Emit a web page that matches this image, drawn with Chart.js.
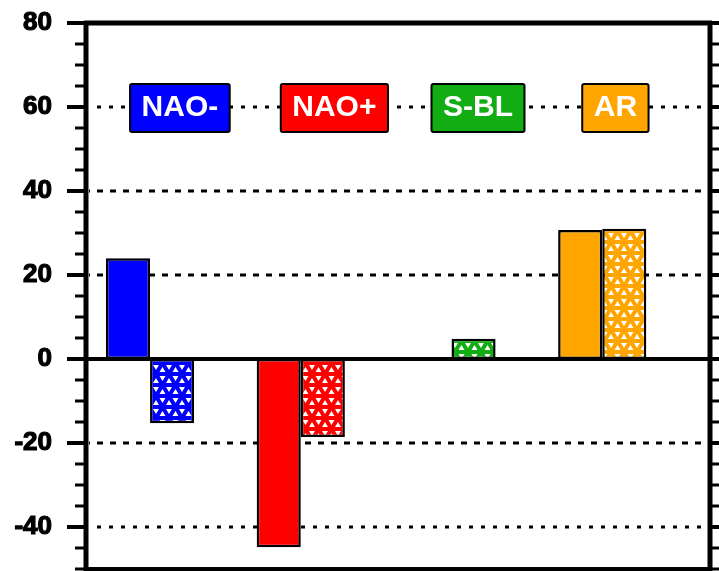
<!DOCTYPE html>
<html>
<head>
<meta charset="utf-8">
<style>
  html, body { margin: 0; padding: 0; background: #fff; }
  #wrap { width: 719px; height: 571px; }
</style>
<script src="https://cdn.jsdelivr.net/npm/chart.js@4/dist/chart.umd.min.js"></script>
</head>
<body>
<div id="wrap"><canvas id="c" width="719" height="571"></canvas></div>
<script>
// Regimes and their values (solid = first member, hatched = second member)
const categories = ['NAO-', 'NAO+', 'S-BL', 'AR'];
const categoryColors = ['#0000ff', '#ff0000', '#12ad12', '#ffa500'];
const solidValues = [24.0, -44.8, null, 30.7];
const hatchedValues = [-15.3, -18.6, 4.8, 31.0];
const yTickValues = [-40, -20, 0, 20, 40, 60, 80];
const gridValues = [-40, -20, 20, 40, 60];

const canvas = document.getElementById('c');
const ctx = canvas.getContext('2d');

// Triangular-lattice fill: white triangles separated by coloured strokes
function trianglePattern(color) {
  const a = 13, h = 11;
  const c = document.createElement('canvas');
  c.width = a; c.height = 2 * h;
  const g = c.getContext('2d');
  g.fillStyle = '#ffffff';
  g.fillRect(0, 0, a, 2 * h);
  g.strokeStyle = color;
  g.lineWidth = 4;
  g.beginPath();
  for (const y of [0, h, 2 * h]) { g.moveTo(-2, y); g.lineTo(a + 2, y); }
  for (let k = -1; k <= 2; k++) {
    g.moveTo(k * a, 0); g.lineTo(k * a + a, 2 * h);
    g.moveTo(k * a, 0); g.lineTo(k * a - a, 2 * h);
  }
  g.stroke();
  return ctx.createPattern(c, 'repeat');
}

const xs = categories.map((_, i) => i + 1);
const solidData = xs.map((x, i) => ({ x, y: solidValues[i] }));
const hatchedData = xs.map((x, i) => ({ x, y: hatchedValues[i] }));
const hatchedFills = categoryColors.map(trianglePattern);

// Frame, dashed reference lines, tick marks and the regime labels
const framePlugin = {
  id: 'frame',
  beforeDatasetsDraw(chart) {
    const { ctx, chartArea: ca, scales: { y } } = chart;
    ctx.save();
    ctx.strokeStyle = '#000';
    ctx.lineWidth = 3;
    gridValues.forEach(v => {
      const py = y.getPixelForValue(v);
      ctx.setLineDash(v === 60 || v === -40 ? [4, 8] : [6, 7]);
      ctx.lineDashOffset = -8;
      ctx.beginPath();
      ctx.moveTo(ca.left + 3, py);
      ctx.lineTo(ca.right - 3, py);
      ctx.stroke();
    });
    ctx.restore();
  },
  afterDatasetsDraw(chart) {
    const { ctx, chartArea: ca, scales: { y } } = chart;
    ctx.save();
    ctx.strokeStyle = '#000';
    ctx.setLineDash([]);

    // zero line
    const p0 = y.getPixelForValue(0);
    ctx.lineWidth = 4;
    ctx.beginPath();
    ctx.moveTo(ca.left, p0);
    ctx.lineTo(ca.right, p0);
    ctx.stroke();

    // tick marks, pointing outward on both sides
    for (let v = -50; v <= 80; v += 5) {
      const py = y.getPixelForValue(v);
      const major = v % 20 === 0;
      const len = major ? 19 : 11;
      ctx.lineWidth = major ? 4 : 3;
      ctx.beginPath();
      ctx.moveTo(ca.left - len, py); ctx.lineTo(ca.left, py);
      ctx.moveTo(ca.right, py); ctx.lineTo(ca.right + len, py);
      ctx.stroke();
    }

    // frame
    ctx.lineWidth = 5;
    ctx.beginPath();
    ctx.moveTo(ca.left, ca.top); ctx.lineTo(ca.left, ca.bottom + 3);
    ctx.moveTo(ca.right, ca.top); ctx.lineTo(ca.right, ca.bottom + 3);
    ctx.moveTo(ca.left - 2, ca.top); ctx.lineTo(ca.right + 2, ca.top);
    ctx.stroke();
    ctx.lineWidth = 4;
    ctx.beginPath();
    ctx.moveTo(ca.left, ca.bottom); ctx.lineTo(ca.right, ca.bottom);
    ctx.stroke();

    // regime labels on the 60 line
    const x = chart.scales.x;
    const py = y.getPixelForValue(60);
    ctx.font = 'bold 30px "Liberation Sans", Arial, sans-serif';
    ctx.textBaseline = 'middle';
    ctx.textAlign = 'left';
    categories.forEach((name, i) => {
      const tw = ctx.measureText(name).width;
      const bx = x.getPixelForValue(xs[i]) - 20;
      const bw = tw + 23;
      const bh = 48;
      const by = py - bh / 2 + 1;
      ctx.fillStyle = categoryColors[i];
      ctx.beginPath();
      ctx.roundRect(bx, by, bw, bh, 2);
      ctx.fill();
      ctx.lineWidth = 2;
      ctx.strokeStyle = '#000';
      ctx.stroke();
      ctx.fillStyle = '#ffffff';
      ctx.fillText(name, bx + 11.5, py + 1);
    });
    ctx.restore();
  }
};

new Chart(canvas, {
  type: 'bar',
  data: {
    datasets: [
      {
        label: 'solid',
        data: solidData,
        backgroundColor: categoryColors,
        borderColor: '#000',
        borderWidth: 2.5,
        borderSkipped: false
      },
      {
        label: 'hatched',
        data: hatchedData,
        backgroundColor: hatchedFills,
        borderColor: '#000',
        borderWidth: 2.5,
        borderSkipped: false
      }
    ]
  },
  options: {
    responsive: false,
    animation: false,
    devicePixelRatio: 1,
    layout: { padding: { top: 23, bottom: 2, left: 0, right: 9 } },
    datasets: { bar: { categoryPercentage: 0.585, barPercentage: 1.0 } },
    plugins: { legend: { display: false }, tooltip: { enabled: false } },
    scales: {
      x: {
        type: 'linear',
        min: 0.575,
        max: 4.715,
        offset: false,
        display: false,
        afterBuildTicks(scale) { scale.ticks = xs.map(v => ({ value: v })); }
      },
      y: {
        min: -50,
        max: 80,
        afterBuildTicks(scale) { scale.ticks = yTickValues.map(v => ({ value: v })); },
        afterFit(scale) {
          scale.width = 86;
          scale.paddingTop = 0;
          scale.paddingBottom = 0;
        },
        grid: { display: false, drawTicks: false },
        border: { display: false },
        ticks: {
          padding: 34,
          color: '#000',
          textStrokeColor: '#000',
          textStrokeWidth: 1.2,
          font: { family: '"Liberation Sans", Arial, sans-serif', size: 26, weight: 'bold' }
        }
      }
    }
  },
  plugins: [framePlugin]
});
</script>
</body>
</html>
